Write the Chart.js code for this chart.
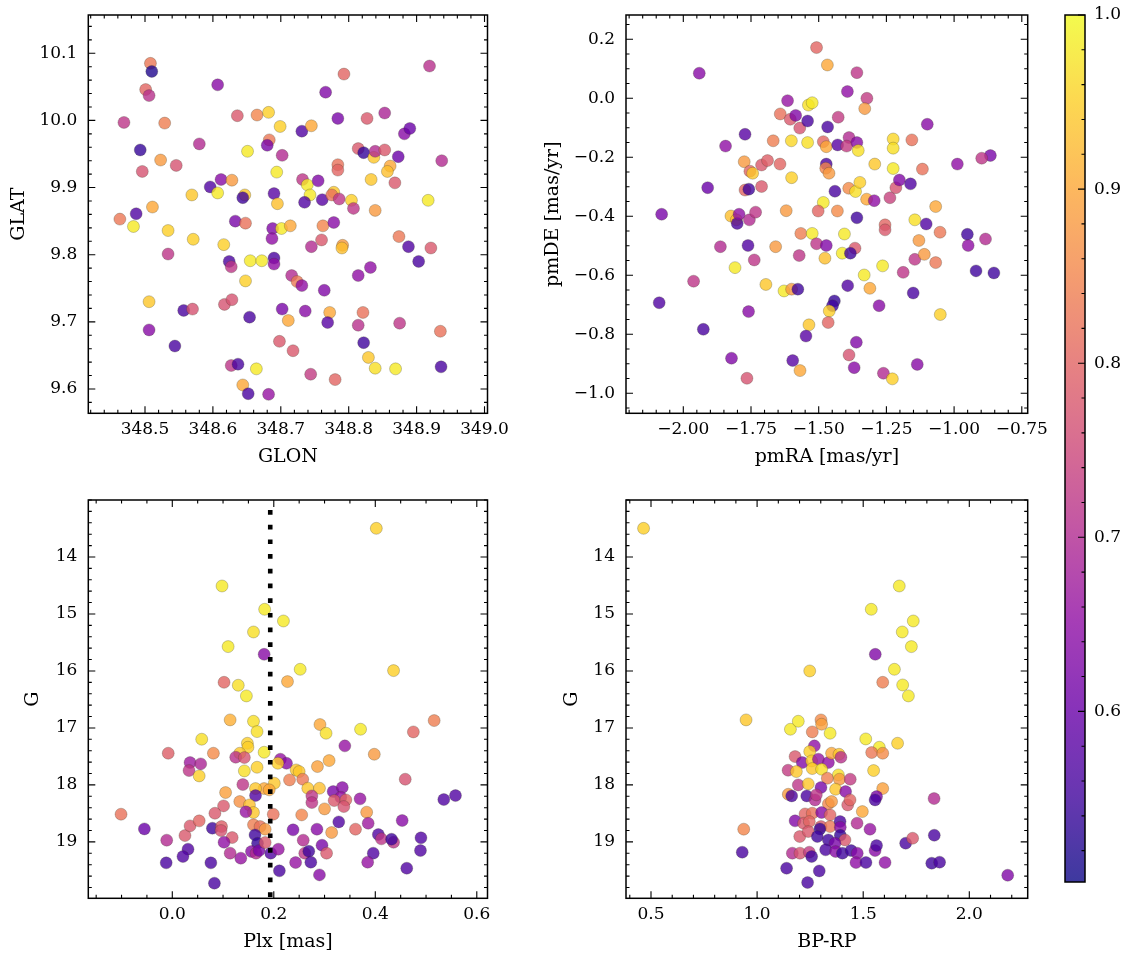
<!DOCTYPE html>
<html><head><meta charset="utf-8">
<script src="https://cdn.jsdelivr.net/npm/chart.js@4.4.1/dist/chart.umd.min.js"></script>
<style>
html,body{margin:0;padding:0;background:#fff;}
#wrap{position:relative;width:1133px;height:965px;background:#fff;}
canvas{position:absolute;left:0;top:0;}
</style></head><body><div id="wrap">
<canvas id="c1" width="1133" height="965"></canvas>
<canvas id="c2" width="1133" height="965"></canvas>
<canvas id="c3" width="1133" height="965"></canvas>
<canvas id="c4" width="1133" height="965"></canvas>
<canvas id="c5" width="1133" height="965"></canvas>
</div>
<script>
// ---------------- DATA ----------------
// Top-left: GLON vs GLAT
const tlGlon = [348.508,348.510,348.501,348.506,348.607,348.919,348.793,348.766,348.469,348.529,348.636,348.665,348.682,348.699,348.731,348.745,348.784,348.827,348.853,348.882,348.890,348.493,348.580,348.683,348.680,348.651,348.702,348.523,348.546,348.496,348.694,348.814,348.822,348.837,348.839,348.853,348.873,348.937,348.784,348.784,348.861,348.857,348.833,348.868,348.732,348.739,348.755,348.596,348.612,348.628,348.569,348.607,348.647,348.644,348.690,348.695,348.743,348.735,348.761,348.778,348.775,348.786,348.804,348.807,348.839,348.917,348.511,
348.463,348.487,348.483,348.534,348.571,348.616,348.633,348.648,348.688,348.701,348.714,348.687,348.762,348.778,348.760,348.745,348.791,348.790,348.874,348.888,348.903,348.921,348.534,348.624,348.627,348.655,348.672,348.690,348.690,348.716,348.724,348.731,348.764,348.814,348.832,348.648,348.506,348.557,348.570,348.617,348.628,348.654,348.702,348.711,348.736,348.772,348.769,348.821,348.814,348.875,348.935,348.506,348.544,348.698,348.718,348.822,348.829,348.839,348.869,348.936,348.627,348.637,348.664,348.744,348.780,348.644,348.652,348.682];
const tlGlat = [10.085,10.073,10.046,10.037,10.053,10.081,10.069,10.042,9.997,9.996,10.007,10.008,10.012,9.991,9.984,9.992,10.003,10.003,10.011,9.980,9.988,9.956,9.965,9.971,9.963,9.954,9.948,9.941,9.933,9.924,9.923,9.958,9.952,9.945,9.954,9.956,9.946,9.940,9.934,9.926,9.932,9.924,9.912,9.907,9.912,9.904,9.910,9.901,9.912,9.911,9.889,9.892,9.889,9.885,9.891,9.876,9.889,9.878,9.882,9.893,9.889,9.883,9.881,9.869,9.866,9.881,9.871,
9.853,9.861,9.842,9.836,9.823,9.815,9.850,9.847,9.839,9.839,9.843,9.824,9.843,9.848,9.822,9.812,9.814,9.810,9.827,9.812,9.790,9.810,9.801,9.790,9.782,9.791,9.791,9.795,9.786,9.769,9.760,9.754,9.747,9.769,9.781,9.761,9.730,9.717,9.719,9.726,9.733,9.707,9.719,9.702,9.716,9.714,9.699,9.714,9.695,9.698,9.686,9.688,9.664,9.671,9.657,9.669,9.647,9.631,9.630,9.633,9.635,9.637,9.630,9.622,9.614,9.606,9.593,9.592];
const tlProb = [.83,.52,.80,.71,.64,.71,.80,.63,.72,.84,.78,.85,.95,.95,.57,.90,.62,.78,.69,.64,.60,.54,.70,.83,.62,.98,.70,.88,.77,.77,.98,.78,.54,.94,.70,.78,.60,.70,.82,.80,.90,.93,.94,.78,.72,.98,.63,.57,.64,.88,.94,.98,.94,.55,.58,.93,.98,.57,.58,.94,.82,.72,.95,.72,.88,.98,.90,
.83,.57,.98,.95,.95,.95,.62,.82,.63,.98,.90,.65,.85,.64,.78,.70,.88,.93,.83,.57,.56,.78,.72,.56,.72,.98,.98,.56,.65,.70,.83,.65,.63,.65,.65,.95,.94,.56,.77,.77,.77,.56,.62,.90,.64,.90,.58,.82,.71,.72,.82,.64,.56,.78,.78,.55,.94,.97,.98,.56,.72,.56,.98,.73,.80,.90,.56,.66];

// Top-right: pmRA vs pmDE
const trPmra = [-1.941,-1.508,-1.468,-1.359,-1.394,-1.322,-1.330,-1.615,-1.538,-1.524,-1.642,-1.605,-1.585,-1.570,-1.541,-1.467,-1.428,-1.099,-1.772,-1.844,-1.668,-1.601,-1.541,-1.483,-1.472,-1.430,-1.388,-1.397,-1.359,-1.354,-1.225,-1.225,-1.156,-0.866,-0.898,-0.988,-1.775,-1.754,-1.744,-1.711,-1.689,-1.643,-1.600,-1.472,-1.474,-1.462,-1.293,-1.225,-1.117,-1.910,-1.772,-1.758,-1.711,-1.440,-1.389,-1.364,-1.348,-1.323,-1.295,-1.237,-1.215,-1.202,-1.161,-1.483,-1.068,
-2.080,-1.824,-1.804,-1.801,-1.794,-1.756,-1.733,-1.620,-1.502,-1.431,-1.359,-1.255,-1.255,-1.145,-1.103,-1.566,-1.524,-1.405,-1.130,-1.052,-0.951,-0.884,-0.948,-1.863,-1.761,-1.659,-1.508,-1.472,-1.366,-1.413,-1.383,-1.738,-1.572,-1.477,-1.145,-1.110,-1.068,-1.809,-1.264,-1.332,-1.188,-0.919,-0.853,-1.962,-1.695,-1.628,-1.600,-1.577,-1.393,-1.311,-1.151,-2.089,-1.759,-1.442,-1.449,-1.461,-1.277,-1.051,-1.926,-1.536,-1.547,-1.465,-1.361,-1.822,-1.596,-1.569,-1.388,-1.369,-1.261,-1.228,-1.136,-1.765];
const trPmde = [0.085,0.172,0.113,0.087,0.023,0.000,-0.035,-0.008,-0.023,-0.015,-0.053,-0.071,-0.058,-0.101,-0.077,-0.097,-0.064,-0.088,-0.122,-0.162,-0.144,-0.144,-0.150,-0.147,-0.164,-0.158,-0.133,-0.162,-0.150,-0.177,-0.138,-0.169,-0.141,-0.194,-0.203,-0.223,-0.215,-0.247,-0.254,-0.226,-0.211,-0.223,-0.269,-0.223,-0.237,-0.254,-0.223,-0.238,-0.240,-0.303,-0.311,-0.308,-0.299,-0.315,-0.305,-0.316,-0.285,-0.342,-0.347,-0.337,-0.303,-0.277,-0.290,-0.353,-0.367,
-0.393,-0.399,-0.412,-0.424,-0.393,-0.412,-0.386,-0.381,-0.382,-0.382,-0.405,-0.429,-0.446,-0.412,-0.426,-0.458,-0.458,-0.460,-0.482,-0.454,-0.461,-0.477,-0.499,-0.503,-0.499,-0.503,-0.493,-0.499,-0.508,-0.525,-0.525,-0.548,-0.533,-0.542,-0.546,-0.529,-0.557,-0.574,-0.568,-0.599,-0.590,-0.585,-0.592,-0.620,-0.631,-0.653,-0.647,-0.647,-0.635,-0.644,-0.660,-0.693,-0.723,-0.687,-0.703,-0.721,-0.703,-0.733,-0.783,-0.768,-0.806,-0.760,-0.827,-0.881,-0.889,-0.923,-0.870,-0.913,-0.932,-0.951,-0.902,-0.949];
const trProb = [.64,.80,.90,.72,.65,.73,.88,.66,.97,.98,.82,.78,.63,.77,.56,.56,.73,.64,.58,.65,.84,.96,.97,.80,.90,.58,.70,.73,.64,.97,.96,.97,.82,.62,.72,.65,.88,.80,.94,.78,.79,.80,.95,.56,.85,.88,.94,.98,.82,.60,.80,.55,.78,.56,.86,.97,.95,.90,.65,.74,.77,.63,.57,.98,.90,
.62,.93,.93,.56,.65,.70,.72,.88,.80,.86,.55,.80,.78,.97,.57,.84,.98,.98,.88,.83,.55,.70,.65,.70,.57,.88,.72,.63,.78,.98,.55,.72,.72,.93,.72,.88,.83,.98,.98,.98,.72,.55,.55,.72,.94,.98,.88,.55,.57,.90,.56,.57,.64,.54,.55,.95,.64,.95,.56,.94,.58,.80,.63,.63,.58,.90,.77,.64,.70,.95,.64,.77];

// Bottom-left: Plx vs G
const blPlx = [0.402,0.098,0.182,0.219,0.160,0.110,0.181,0.252,0.436,0.102,0.130,0.227,
0.146,0.114,0.160,0.167,0.291,0.303,0.371,0.516,0.475,0.058,
0.148,0.149,0.181,0.133,0.081,-0.008,0.340,0.398,0.035,0.056,
0.033,0.053,0.125,0.142,0.167,0.142,0.213,0.225,0.208,0.244,
0.250,0.286,0.309,0.201,0.181,0.164,0.191,0.231,0.257,0.267,
0.290,0.139,0.105,0.459,0.164,0.133,0.152,0.160,0.145,0.101,
0.084,-0.101,0.199,0.255,0.275,0.275,0.300,0.317,0.335,0.332,
0.319,0.342,0.338,0.370,0.383,0.535,0.558,-0.055,-0.011,0.025,
0.035,0.053,0.079,0.097,0.096,0.118,0.102,0.114,0.135,0.031,
0.021,-0.012,0.076,0.083,0.160,0.173,0.183,0.163,0.168,0.156,
0.165,0.171,0.183,0.194,0.209,0.211,0.238,0.258,0.261,0.269,
0.273,0.243,0.285,0.295,0.304,0.290,0.314,0.328,0.361,0.386,
0.406,0.412,0.436,0.432,0.453,0.396,0.385,0.490,0.489,0.462];
const blG = [13.497,14.509,14.918,15.123,15.316,15.573,15.708,15.971,15.994,16.199,16.251,16.187,
16.438,16.859,16.883,17.064,16.941,17.093,17.023,16.871,17.070,17.198,
17.269,17.339,17.427,17.444,17.444,17.444,17.315,17.462,17.608,17.631,
17.748,17.842,17.514,17.520,17.690,17.754,17.549,17.620,17.620,17.737,
17.766,17.678,17.573,17.970,18.064,18.064,18.087,17.912,17.900,18.058,
18.058,17.994,18.134,17.900,18.187,18.292,18.351,18.485,18.473,18.368,
18.497,18.514,18.514,18.526,18.193,18.310,18.421,18.117,18.046,18.216,
18.275,18.263,18.380,18.245,18.479,18.257,18.187,18.772,18.970,18.889,
18.719,18.631,18.760,18.731,18.801,18.924,19.006,19.198,19.286,19.128,
19.257,19.368,19.368,19.725,18.701,18.731,18.777,18.877,19.023,19.169,
19.198,19.152,19.011,19.198,19.128,19.508,18.789,18.970,19.198,19.163,
19.356,19.362,18.777,19.058,19.198,19.579,18.836,18.649,18.777,18.672,
18.871,18.947,19.006,18.953,18.625,19.198,19.356,18.929,19.152,19.462];
const blProb = [.95,.98,.98,.98,.97,.98,.64,.98,.95,.80,.97,.90,
.98,.91,.97,.97,.90,.97,.98,.84,.80,.97,
.95,.95,.98,.94,.86,.79,.66,.88,.67,.69,
.72,.95,.71,.77,.95,.97,.66,.64,.95,.94,
.94,.89,.90,.94,.90,.94,.90,.84,.83,.94,
.93,.72,.89,.77,.57,.87,.93,.94,.66,.78,
.78,.82,.82,.85,.72,.72,.88,.62,.64,.66,
.78,.80,.77,.66,.88,.57,.57,.60,.70,.78,
.78,.80,.55,.79,.77,.78,.65,.70,.66,.57,
.57,.56,.56,.56,.84,.82,.88,.55,.54,.64,
.70,.62,.78,.57,.66,.56,.62,.70,.72,.55,
.56,.66,.64,.62,.78,.64,.88,.57,.80,.67,
.57,.72,.72,.55,.64,.57,.66,.57,.57,.57];
const plxLine = 0.193;

// Bottom-right: BP-RP vs G
const brBprp = [0.465,1.670,1.538,1.736,1.684,1.727,1.557,1.248,1.647,1.592,1.686,
1.713,0.948,1.157,1.194,1.301,1.304,1.260,1.344,1.512,1.576,
1.662,1.540,1.592,1.549,1.592,1.270,1.248,1.179,1.213,1.257,
1.289,1.336,1.351,1.386,1.395,1.146,1.185,1.260,1.304,1.383,
1.331,1.388,1.439,1.194,1.241,1.301,1.370,1.417,1.147,1.163,
1.234,1.273,1.279,1.336,1.351,1.427,1.438,1.496,1.563,1.556,
1.834,1.226,1.260,1.304,1.344,1.179,1.219,1.246,1.301,1.344,
1.391,1.392,1.471,1.532,1.201,1.241,1.296,1.284,1.336,1.392,
1.414,1.367,0.937,0.930,1.166,1.202,1.246,1.257,1.323,1.370,
1.402,1.443,1.472,1.466,1.513,1.556,1.563,1.603,1.700,1.733,
1.835,1.823,1.860,2.181,1.139,1.238,1.293];
const brG = [13.497,14.509,14.918,15.123,15.316,15.573,15.708,16.000,15.971,16.199,16.246,
16.438,16.859,17.023,16.883,16.859,16.935,17.070,17.093,17.193,17.339,
17.269,17.432,17.444,17.748,18.064,17.315,17.415,17.503,17.608,17.579,
17.549,17.608,17.444,17.462,17.514,17.742,17.766,17.713,17.725,17.824,
17.883,17.900,17.900,18.000,17.982,18.046,18.076,18.117,18.164,18.193,
18.193,18.263,18.175,18.333,18.292,18.351,18.263,18.468,18.205,18.263,
18.240,18.509,18.497,18.485,18.526,18.631,18.672,18.643,18.731,18.731,
18.643,18.742,18.672,18.777,18.906,18.818,18.772,18.906,18.965,18.883,
18.965,19.023,18.777,19.181,19.198,19.198,19.181,19.257,19.140,19.169,
19.198,19.152,19.198,19.362,19.362,19.152,19.064,19.362,19.023,18.936,
18.883,19.374,19.356,19.585,19.462,19.713,19.509];
const brProb = [.95,.98,.98,.98,.98,.98,.63,.95,.98,.84,.98,
.98,.94,.98,.98,.86,.89,.84,.98,.98,.98,
.95,.83,.86,.95,.89,.65,.95,.78,.63,.95,
.66,.65,.90,.94,.71,.73,.94,.94,.97,.97,
.84,.88,.73,.72,.94,.62,.94,.64,.88,.56,
.56,.70,.72,.85,.88,.78,.80,.90,.62,.56,
.70,.80,.82,.64,.80,.63,.78,.80,.78,.83,
.56,.64,.70,.66,.78,.78,.54,.55,.55,.54,
.78,.62,.85,.56,.70,.77,.73,.55,.56,.64,
.55,.55,.64,.65,.56,.64,.56,.65,.56,.78,
.56,.55,.56,.63,.56,.56,.56];

// Tick labels
const glonTicks = [348.5,348.6,348.7,348.8,348.9,349.0];
const glatTicks = [9.6,9.7,9.8,9.9,10.0,10.1];
const pmraTicks = [-2.0,-1.75,-1.5,-1.25,-1.0,-0.75];
const pmdeTicks = [-1.0,-0.8,-0.6,-0.4,-0.2,0.0,0.2];
const plxTicks = [0.0,0.2,0.4,0.6];
const gTicks = [14,15,16,17,18,19];
const bprpTicks = [0.5,1.0,1.5,2.0];
const cbarTicks = [0.6,0.7,0.8,0.9,1.0];

// Colour scale range
const vmin = 0.502, vmax = 1.0;

// ---------------- STYLE ----------------
Chart.defaults.font.family = "'DejaVu Serif', serif";
Chart.defaults.color = '#000';
const ALPHA = 0.8;
const plasmaStops = ['#0d0887','#41049d','#6a00a8','#8f0da4','#b12a90','#cc4778','#e16462','#f2844b','#fca636','#fcce25','#f0f921'];
function hexRgb(h){return [parseInt(h.slice(1,3),16),parseInt(h.slice(3,5),16),parseInt(h.slice(5,7),16)];}
const plasmaRgb = plasmaStops.map(hexRgb);
function plasma(t){
  t = Math.min(1, Math.max(0, t));
  const p = t*10, i = Math.min(9, Math.floor(p)), f = p - i;
  const a = plasmaRgb[i], b = plasmaRgb[i+1];
  return [0,1,2].map(k => Math.round(a[k] + (b[k]-a[k])*f));
}
function rgba(c, al){ return `rgba(${c[0]},${c[1]},${c[2]},${al})`; }
function probColor(v){ return rgba(plasma((v - vmin)/(vmax - vmin)), ALPHA); }
const EDGE = 'rgba(60,60,40,0.45)';

function fmt(v, dec){ return Number(v).toFixed(dec).replace('-', '\u2212'); }

const framePlugin = {
  id: 'frame',
  afterDraw(chart, args, o){
    if (!o || !o.on) return;
    const ctx = chart.ctx, a = chart.chartArea;
    const xs = chart.scales.x, ys = chart.scales.y;
    const minorVals = (s, step) => {
      const lo = Math.min(s.min, s.max), hi = Math.max(s.min, s.max), out = [];
      for (let k = Math.ceil(lo/step - 1e-6); k <= Math.floor(hi/step + 1e-6); k++) out.push(k*step);
      return out;
    };
    ctx.save();
    ctx.strokeStyle = '#000';
    ctx.lineWidth = 1.1;
    ctx.beginPath();
    if (o.xStep) {
      const sets = [[xs.ticks.map(t => t.value), o.major], [minorVals(xs, o.xStep), o.minor]];
      for (const [vals, len] of sets) for (const v of vals) {
        const p = xs.getPixelForValue(v);
        if (p < a.left - 0.5 || p > a.right + 0.5) continue;
        ctx.moveTo(p, a.bottom); ctx.lineTo(p, a.bottom - len);
        ctx.moveTo(p, a.top); ctx.lineTo(p, a.top + len);
      }
    }
    if (o.yStep) {
      const sets = [[ys.ticks.map(t => t.value), o.major], [minorVals(ys, o.yStep), o.minor]];
      for (const [vals, len] of sets) for (const v of vals) {
        const p = ys.getPixelForValue(v);
        if (p < a.top - 0.5 || p > a.bottom + 0.5) continue;
        if (!o.rightOnly) { ctx.moveTo(a.left, p); ctx.lineTo(a.left + len, p); }
        ctx.moveTo(a.right, p); ctx.lineTo(a.right - len, p);
      }
    }
    ctx.stroke();
    ctx.lineWidth = 1.5;
    ctx.strokeRect(a.left, a.top, a.right - a.left, a.bottom - a.top);
    ctx.restore();
  }
};

const cbarPlugin = {
  id: 'cbar',
  beforeDatasetsDraw(chart, args, o){
    if (!o || !o.on) return;
    const ctx = chart.ctx, a = chart.chartArea, ys = chart.scales.y;
    const y0 = ys.getPixelForValue(vmin), y1 = ys.getPixelForValue(vmax);
    const g = ctx.createLinearGradient(0, y0, 0, y1);
    for (let i = 0; i <= 60; i++) { const t = i/60; g.addColorStop(t, rgba(plasma(t), ALPHA)); }
    ctx.save();
    ctx.fillStyle = g;
    ctx.fillRect(a.left, a.top, a.right - a.left, a.bottom - a.top);
    ctx.restore();
  }
};

function axis(which, c){
  return {
    type: 'linear',
    position: c.position || (which === 'x' ? 'bottom' : 'left'),
    min: c.min, max: c.max, reverse: !!c.reverse,
    afterBuildTicks: s => { s.ticks = c.ticks.map(v => ({value: v})); },
    afterFit: s => {
      if (which === 'x') s.height = c.size; else s.width = c.size;
      s.paddingTop = 0; s.paddingBottom = 0; s.paddingLeft = 0; s.paddingRight = 0;
    },
    grid: {display: false, drawTicks: false},
    border: {display: false},
    ticks: {autoSkip: false, maxRotation: 0, minRotation: 0, padding: c.pad, color: '#000',
            font: {size: 17}, callback: v => fmt(v, c.dec)},
    title: {display: !!c.title, text: c.title || '', color: '#000', font: {size: 19}, padding: 0}
  };
}

function pts(xs, ys){ return xs.map((x, i) => ({x: x, y: ys[i]})); }
function scatterSet(xs, ys, probs){
  return {data: pts(xs, ys), backgroundColor: probs.map(probColor), borderColor: EDGE,
          borderWidth: 0.6, pointRadius: 6, pointHoverRadius: 6};
}

function panel(id, datasets, pad, xc, yc, xMinor, yMinor){
  return new Chart(document.getElementById(id), {
    type: 'scatter',
    data: {datasets: datasets},
    options: {
      responsive: false, animation: false, events: [],
      layout: {padding: pad},
      plugins: {legend: {display: false}, tooltip: {enabled: false},
                frame: {on: true, xStep: xMinor, yStep: yMinor, major: 7, minor: 3.5}},
      scales: {x: axis('x', xc), y: axis('y', yc)}
    },
    plugins: [framePlugin]
  });
}

const XH = 55.1;
// Top-left
panel('c1', [scatterSet(tlGlon, tlGlat, tlProb)],
  {left: 7.6, right: 645.5, top: 15, bottom: 965 - 413.3 - XH},
  {min: 348.4165, max: 349.0044, ticks: glonTicks, dec: 1, size: XH, pad: 6, title: 'GLON'},
  {min: 9.5638, max: 10.157, ticks: glatTicks, dec: 1, size: 80.7, pad: 11, title: 'GLAT'},
  0.02, 0.02);
// Top-right
panel('c2', [scatterSet(trPmra, trPmde, trProb)],
  {left: 541.6, right: 105.3, top: 15, bottom: 965 - 413.3 - XH},
  {min: -2.2116, max: -0.7282, ticks: pmraTicks, dec: 2, size: XH, pad: 6, title: 'pmRA [mas/yr]'},
  {min: -1.0678, max: 0.2824, ticks: pmdeTicks, dec: 1, size: 84.4, pad: 11, title: 'pmDE [mas/yr]'},
  0.05, 0.05);
// Bottom-left
const gMin = 13.0, gMax = 19.99;
panel('c3', [
    {type: 'line', order: -1, data: [{x: plxLine, y: gMin}, {x: plxLine, y: gMax}], borderColor: '#000',
     borderWidth: 4.6, borderDash: [4.7, 10], borderDashOffset: 4.7, borderCapStyle: 'butt',
     pointRadius: 0, fill: false, showLine: true},
    scatterSet(blPlx, blG, blProb)],
  {left: 21.6, right: 645.5, top: 500, bottom: 965 - 898.3 - XH},
  {min: -0.1655, max: 0.6211, ticks: plxTicks, dec: 1, size: XH, pad: 6, title: 'Plx [mas]'},
  {min: gMin, max: gMax, reverse: true, ticks: gTicks, dec: 0, size: 66.7, pad: 11, title: 'G'},
  0.05, 0.2);
// Bottom-right
panel('c4', [scatterSet(brBprp, brG, brProb)],
  {left: 560.6, right: 105.3, top: 500, bottom: 965 - 898.3 - XH},
  {min: 0.3822, max: 2.2752, ticks: bprpTicks, dec: 1, size: XH, pad: 6, title: 'BP-RP'},
  {min: gMin, max: gMax, reverse: true, ticks: gTicks, dec: 0, size: 65.4, pad: 11, title: 'G'},
  0.1, 0.2);

// Colorbar
new Chart(document.getElementById('c5'), {
  type: 'scatter',
  data: {datasets: [{data: []}]},
  options: {
    responsive: false, animation: false, events: [],
    layout: {padding: {left: 1065, right: 0, top: 15, bottom: 83}},
    plugins: {legend: {display: false}, tooltip: {enabled: false},
              cbar: {on: true},
              frame: {on: true, yStep: 0.02, rightOnly: true, major: 7, minor: 3.5}},
    scales: {
      x: {display: false, min: 0, max: 1},
      y: axis('y', {position: 'right', min: vmin, max: vmax, ticks: cbarTicks, dec: 1, size: 48, pad: 9})
    }
  },
  plugins: [cbarPlugin, framePlugin]
});
</script>
</body></html>
